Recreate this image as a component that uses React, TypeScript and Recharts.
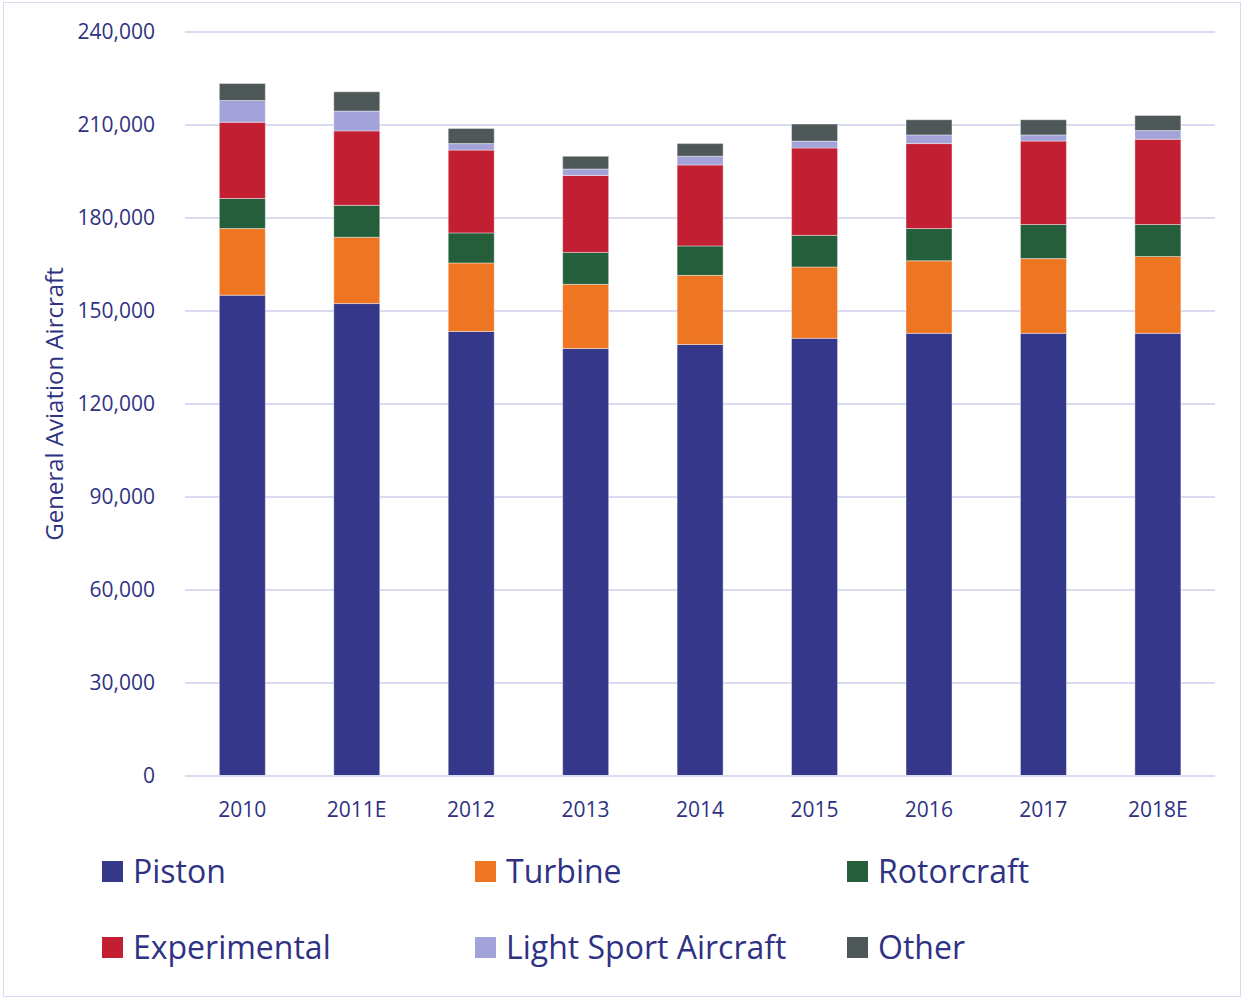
import { BarChart, Bar, XAxis, YAxis, CartesianGrid } from "recharts";

const years = ["2010", "2011E", "2012", "2013", "2014", "2015", "2016", "2017", "2018E"];
const piston = [155100, 152400, 143400, 137900, 139200, 141200, 142800, 142800, 142800];
const turbine = [21500, 21400, 22100, 20700, 22300, 23000, 23400, 24100, 24800];
const rotorcraft = [9700, 10300, 9700, 10300, 9500, 10200, 10400, 11000, 10300];
const experimental = [24600, 24000, 26700, 24800, 26100, 28200, 27400, 26900, 27500];
const lightSport = [7000, 6400, 2100, 2100, 2800, 2200, 2800, 2000, 2800];
const other = [5500, 6200, 4900, 4100, 4100, 5500, 4900, 4900, 4900];
const yTicks = [0, 30000, 60000, 90000, 120000, 150000, 180000, 210000, 240000];

const series = [
  { key: "piston", name: "Piston", color: "#35378a", values: piston },
  { key: "turbine", name: "Turbine", color: "#ee7623", values: turbine },
  { key: "rotorcraft", name: "Rotorcraft", color: "#245e3b", values: rotorcraft },
  { key: "experimental", name: "Experimental", color: "#c22032", values: experimental },
  { key: "lightSport", name: "Light Sport Aircraft", color: "#a3a3da", values: lightSport },
  { key: "other", name: "Other", color: "#4f5858", values: other },
];

const data = years.map((year, i) => {
  const row: Record<string, string | number> = { year };
  series.forEach((s) => (row[s.key] = s.values[i]));
  return row;
});

const TEXT = "#2f3283";
const FONT = "'Open Sans', sans-serif";

function AxisTitle(props: any) {
  const vb = props.viewBox;
  const cx = vb.x + 53;
  const cy = vb.y + vb.height / 2;
  return (
    <text
      x={cx}
      y={cy}
      transform={`rotate(-90, ${cx}, ${cy})`}
      textAnchor="middle"
      dominantBaseline="central"
      fill={TEXT}
      fontSize={24}
      fontFamily={FONT}
    >
      General Aviation Aircraft
    </text>
  );
}

export default function App() {
  const fmt = (v: number) => new Intl.NumberFormat("en-US").format(v);
  const legendCols = [102, 475, 847];

  return (
    <div
      style={{
        position: "absolute",
        left: 0,
        top: 0,
        width: 1244,
        height: 999,
        background: "#fff",
        fontFamily: FONT,
      }}
    >
      <div
        style={{
          position: "absolute",
          left: 3,
          top: 2,
          width: 1236,
          height: 993,
          border: "1px solid #dadaf0",
        }}
      />
      <div style={{ position: "absolute", left: 0, top: 0 }}>
        <BarChart
          width={1244}
          height={831}
          data={data}
          margin={{ top: 32, right: 29, bottom: 0, left: 0 }}
          barCategoryGap="30%"
        >
          <CartesianGrid vertical={false} stroke="#dadaf0" strokeWidth={2} />
          <XAxis
            dataKey="year"
            tickLine={false}
            axisLine={{ stroke: "#dadaf0", strokeWidth: 2 }}
            tick={{ fill: TEXT, fontSize: 21, fontFamily: FONT }}
            tickMargin={20}
            height={55}
          />
          <YAxis
            width={185}
            domain={[0, 240000]}
            ticks={yTicks}
            tickFormatter={fmt}
            tickLine={false}
            axisLine={false}
            tick={{ fill: TEXT, fontSize: 21, fontFamily: FONT }}
            tickMargin={24}
            label={<AxisTitle />}
          />
          {series.map((s) => (
            <Bar
              key={s.key}
              dataKey={s.key}
              name={s.name}
              stackId="a"
              fill={s.color}
              stroke="#ffffff"
              strokeOpacity={0.4}
              strokeWidth={1}
              isAnimationActive={false}
            />
          ))}
        </BarChart>
      </div>
      {[0, 1].map((row) => (
        <div key={row}>
          {series.slice(row * 3, row * 3 + 3).map((s, i) => (
            <div
              key={s.key}
              style={{
                position: "absolute",
                left: legendCols[i],
                top: 833 + row * 76,
                height: 76,
                display: "flex",
                alignItems: "center",
                whiteSpace: "nowrap",
              }}
            >
              <span
                style={{
                  display: "inline-block",
                  width: 21,
                  height: 21,
                  background: s.color,
                  marginRight: 10,
                }}
              />
              <span style={{ fontSize: 32, color: TEXT, lineHeight: "40px" }}>{s.name}</span>
            </div>
          ))}
        </div>
      ))}
    </div>
  );
}
